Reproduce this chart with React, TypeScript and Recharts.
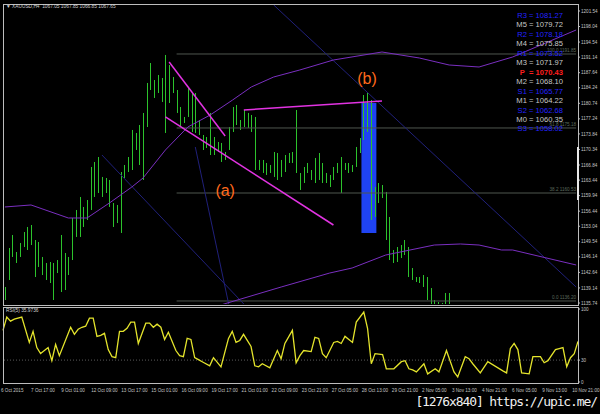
import React from 'react';
import {
  ComposedChart,
  Bar,
  Line,
  XAxis,
  YAxis,
  ReferenceLine,
  ReferenceArea,
  ReferenceDot,
} from 'recharts';

// XAUUSD H4, 6 Oct - 10 Nov 2015. Bars after #120 trade below the visible price window.
const TOTAL_BARS = 154;

const highs = [
  1139.35, 1148.14, 1151.07, 1147.24, 1149.27, 1151.74, 1152.87, 1153.32, 1149.94, 1149.49,
  1146.11, 1144.76, 1144.98, 1144.76, 1145.43, 1151.07, 1147.01, 1146.11, 1154.9, 1156.7,
  1159.63, 1157.38, 1158.95, 1166.39, 1167.52, 1168.64, 1164.14, 1163.91, 1163.46, 1158.28,
  1157.83, 1165.26, 1166.84, 1168.64, 1174.73, 1174.05, 1175.85, 1178.56, 1185.32, 1189.82,
  1185.99, 1187.12, 1186.44, 1191.63, 1189.37, 1186.67, 1183.74, 1179.91, 1177.66, 1184.19,
  1183.29, 1183.06, 1176.98, 1173.6, 1173.15, 1178.56, 1173.15, 1172.02, 1171.8, 1169.77,
  1175.4, 1179.91, 1180.36, 1176.98, 1179.23, 1178.56, 1178.11, 1177.66, 1167.97, 1167.97,
  1167.29, 1166.84, 1169.77, 1169.54, 1167.97, 1169.09, 1169.54, 1169.77, 1179.23, 1165.04,
  1166.39, 1167.29, 1165.71, 1168.42, 1169.54, 1167.29, 1165.04, 1164.59, 1166.39, 1167.29,
  1168.64, 1167.29, 1167.29, 1166.84, 1170.9, 1172.92, 1182.61, 1183.06, 1181.49, 1161.88,
  1162.78, 1162.33, 1160.76, 1155.12, 1147.69, 1148.36, 1148.81, 1149.94, 1148.36, 1143.63,
  1141.6, 1141.6, 1142.05, 1141.6, 1139.12, 1136.42, 1135.97, 1135.75, 1138.0, 1138.0,
];

const lows = [
  1136.42, 1140.93, 1146.11, 1144.76, 1146.11, 1148.36, 1147.69, 1148.81, 1141.6, 1143.86,
  1142.05, 1140.93, 1140.25, 1136.42, 1142.5, 1138.22, 1138.67, 1142.05, 1145.43, 1150.62,
  1150.62, 1152.87, 1154.45, 1156.7, 1159.63, 1160.53, 1159.63, 1160.53, 1157.38, 1152.87,
  1153.77, 1151.52, 1163.91, 1165.26, 1165.71, 1170.22, 1166.84, 1163.46, 1175.4, 1183.74,
  1181.94, 1183.06, 1181.04, 1174.05, 1180.81, 1183.06, 1178.56, 1175.4, 1176.3, 1177.66,
  1174.28, 1174.05, 1173.6, 1170.22, 1170.67, 1169.09, 1169.09, 1169.77, 1167.52, 1167.97,
  1170.22, 1174.28, 1175.85, 1174.73, 1175.4, 1175.18, 1174.28, 1165.71, 1165.71, 1165.04,
  1164.59, 1165.04, 1164.14, 1163.46, 1164.14, 1165.26, 1167.29, 1167.29, 1165.04, 1161.21,
  1162.78, 1165.04, 1163.46, 1162.78, 1163.46, 1162.78, 1162.78, 1161.88, 1163.46, 1165.04,
  1160.53, 1165.71, 1165.04, 1165.26, 1166.39, 1169.54, 1172.47, 1174.28, 1154.45, 1155.12,
  1158.28, 1159.4, 1149.94, 1145.43, 1144.76, 1144.98, 1145.88, 1146.56, 1141.6, 1140.93,
  1140.48, 1140.25, 1139.35, 1136.42, 1135.29, 1134.84, 1134.62, 1134.17, 1134.17, 1134.17,
];

// envelope curves (bar index -> price at each turn of the curve)
const upperIdx = [0, 7, 17, 22, 28, 34, 37, 43, 49, 55, 61, 66, 72, 79, 88, 101, 111, 119, 127, 136, 153];
const upperVal = [
  1157.38, 1157.83, 1154.9, 1154.9, 1158.28, 1161.88, 1163.91, 1170.22, 1175.4, 1178.11, 1181.49,
  1184.42, 1186.67, 1188.25, 1190.5, 1192.3, 1190.95, 1189.37, 1188.92, 1191.18, 1197.26,
];
const lowerIdx = [52, 56, 74, 87, 93, 102, 115, 122, 127, 133, 136, 153];
const lowerVal = [
  1134.17, 1134.84, 1139.35, 1142.5, 1143.63, 1146.56, 1148.81, 1149.04, 1148.81, 1147.69, 1147.69, 1144.31,
];

// RSI(5)
const rsiIdx = [
  0, 1, 2, 3, 5, 7, 8, 9, 10, 12, 13, 14, 15, 18, 19, 20, 21, 22, 23, 24, 25, 26, 27, 28, 29, 30,
  31, 32, 33, 34, 35, 36, 38, 39, 40, 41, 42, 43, 44, 46, 47, 48, 49, 50, 51, 52, 53, 55, 56, 58,
  60, 61, 62, 63, 64, 66, 67, 68, 69, 71, 73, 74, 75, 77, 78, 79, 80, 82, 83, 84, 85, 86, 88, 89,
  90, 91, 93, 94, 96, 97, 98, 99, 101, 102, 104, 106, 107, 108, 109, 110, 112, 113, 115, 116, 118,
  120, 121, 123, 124, 125, 127, 129, 133, 134, 135, 136, 137, 138, 140, 141, 143, 144, 145, 147,
  148, 149, 150, 151, 152, 153,
];
const rsiVal = [
  70.8, 88.9, 83.3, 86.1, 88.9, 54.2, 69.4, 47.2, 38.9, 47.2, 29.2, 51.4, 36.1, 75.0, 65.3, 72.2,
  75.0, 76.4, 87.5, 87.5, 62.5, 63.9, 66.7, 44.4, 34.7, 33.3, 69.4, 69.4, 73.6, 81.9, 81.9, 52.8,
  80.6, 80.6, 75.0, 79.2, 75.0, 58.3, 68.1, 43.1, 36.1, 34.7, 59.7, 58.3, 33.3, 30.6, 27.8, 22.2,
  33.3, 20.8, 59.7, 69.4, 54.2, 56.9, 65.3, 48.6, 22.2, 20.8, 25.0, 19.4, 43.1, 31.9, 52.8, 70.8,
  26.4, 36.1, 43.1, 41.7, 61.1, 59.7, 38.9, 33.3, 54.2, 55.6, 52.8, 62.5, 54.2, 82.0, 95.8, 73.6,
  25.0, 38.9, 37.5, 18.1, 18.1, 27.8, 29.2, 18.1, 16.7, 13.9, 25.0, 11.1, 18.1, 13.9, 43.1, 13.9,
  6.9, 34.7, 31.9, 25.0, 12.5, 27.8, 15.3, 12.5, 45.8, 52.8, 44.4, 12.5, 11.1, 34.7, 34.7, 26.4,
  29.2, 44.4, 45.8, 47.2, 20.8, 33.3, 38.9, 55.6,
];

const priceTicks = [
  1201.54, 1198.04, 1194.54, 1191.14, 1187.64, 1184.24, 1180.74, 1177.24, 1173.84, 1170.34,
  1166.84, 1163.44, 1159.94, 1156.44, 1153.04, 1149.54, 1146.14, 1142.64, 1139.14, 1135.74,
];

const timeLabels = [
  '6 Oct 2015', '7 Oct 17:00', '9 Oct 01:00', '12 Oct 09:00', '13 Oct 17:00', '15 Oct 01:00',
  '16 Oct 09:00', '19 Oct 17:00', '21 Oct 01:00', '22 Oct 09:00', '23 Oct 21:00', '27 Oct 05:00',
  '28 Oct 13:00', '29 Oct 21:00', '2 Nov 05:00', '3 Nov 13:00', '4 Nov 21:00', '6 Nov 05:00',
  '9 Nov 13:00', '10 Nov 21:00',
];
const timeTicks = timeLabels.map((_, k) => k * 8);

const pivotNames = ['R3', 'M5', 'R2', 'M4', 'R1', 'M3', 'P', 'M2', 'S1', 'M1', 'S2', 'M0', 'S3'];
const pivotLevels = [
  1081.27, 1079.72, 1078.18, 1075.85, 1073.52, 1071.97, 1070.43, 1068.1, 1065.77, 1064.22,
  1062.68, 1060.35, 1058.02,
];

// hand-drawn objects on the chart: [fromBar, fromPrice, toBar, toPrice]
const trendLines = [
  [44, 1190.05, 59, 1173.38],
  [43, 1177.66, 88, 1153.32],
  [64, 1179.23, 101, 1181.26],
];
const fanLines = [
  [72, 1202.89, 153, 1139.35],
  [26, 1169.09, 64, 1135.52],
  [51, 1170.9, 60, 1135.29],
];
const fibLevels = [1191.85, 1175.18, 1160.53, 1136.2];
const fibNames = ['100.0', '61.8', '38.2', '0.0'];

const PRICE_MIN = 1135.52;
const PRICE_MAX = 1202.89;

const rows = Array.from({ length: TOTAL_BARS }, (_, i) => {
  const u = upperIdx.indexOf(i);
  const l = lowerIdx.indexOf(i);
  const r = rsiIdx.indexOf(i);
  return {
    i,
    range: i < highs.length ? [lows[i], highs[i]] : null,
    upper: u >= 0 ? upperVal[u] : null,
    lower: l >= 0 ? lowerVal[l] : null,
    rsi: r >= 0 ? rsiVal[r] : null,
  };
});

const GREEN = '#2cc22c';
const TINY = { fontSize: 4.6, fill: '#c4c4c4', fontFamily: 'Liberation Sans, Arial, sans-serif' };

const HighLowBar = (props: any) => {
  const { x, y, width, height } = props;
  if (x == null || y == null || !height) return null;
  const cx = Math.round(x + width / 2) + 0.5;
  const top = Math.min(y, y + height);
  return <line x1={cx} x2={cx} y1={top} y2={top + Math.abs(height)} stroke={GREEN} strokeWidth={1} />;
};

const TimeTick = (props: any) => {
  const { x, y, payload } = props;
  return (
    <text x={x - 2} y={y + 2} textAnchor="start" {...TINY}>
      {timeLabels[payload.value / 8]}
    </text>
  );
};

const frame = (top: number, height: number): React.CSSProperties => ({
  position: 'absolute',
  left: 3,
  top,
  width: 574,
  height,
  border: '1px solid #bdbdbd',
  pointerEvents: 'none',
});

export default function App() {
  return (
    <div
      style={{
        position: 'absolute',
        left: 0,
        top: 0,
        width: 600,
        height: 414,
        background: '#000',
        overflow: 'hidden',
        fontFamily: 'Liberation Sans, Arial, sans-serif',
      }}
    >
      <div style={{ position: 'absolute', left: 0, top: 0 }}>
        <ComposedChart width={600} height={306} data={rows} margin={{ top: 5, right: 0, left: 3, bottom: 2 }}>
          <XAxis dataKey="i" hide />
          <YAxis
            orientation="right"
            width={22}
            domain={[PRICE_MIN, PRICE_MAX]}
            allowDataOverflow
            ticks={priceTicks}
            interval={0}
            tickFormatter={(v: number) => v.toFixed(2)}
            tick={TINY}
            tickSize={2}
            tickMargin={1}
            axisLine={false}
            tickLine={{ stroke: '#bdbdbd' }}
          />
          {fibLevels.map((p, k) => (
            <ReferenceLine
              key={`fib-${k}`}
              segment={[{ x: 46, y: p }, { x: 153, y: p }]}
              stroke="#4f564f"
              strokeWidth={1}
              ifOverflow="hidden"
            />
          ))}
          {fanLines.map(([a, pa, b, pb], k) => (
            <ReferenceLine
              key={`fan-${k}`}
              segment={[{ x: a, y: pa }, { x: b, y: pb }]}
              stroke="#20207a"
              strokeWidth={1}
              ifOverflow="hidden"
            />
          ))}
          <ReferenceArea x1={96} x2={99} y1={1151.52} y2={1180.81} fill="#1f43f2" fillOpacity={1} stroke="none" />
          <Line dataKey="upper" stroke="#7a2fc0" strokeWidth={1} dot={false} connectNulls isAnimationActive={false} />
          <Line dataKey="lower" stroke="#7a2fc0" strokeWidth={1} dot={false} connectNulls isAnimationActive={false} />
          <Bar dataKey="range" shape={HighLowBar} isAnimationActive={false} />
          {trendLines.map(([a, pa, b, pb], k) => (
            <ReferenceLine
              key={`tl-${k}`}
              segment={[{ x: a, y: pa }, { x: b, y: pb }]}
              stroke="#e233e2"
              strokeWidth={1.5}
              ifOverflow="hidden"
            />
          ))}
          <ReferenceDot
            x={59}
            y={1161.2}
            r={0}
            label={{ value: '(a)', fill: '#ff6a1c', fontSize: 16, position: 'center' }}
          />
          <ReferenceDot
            x={97}
            y={1186.4}
            r={0}
            label={{ value: '(b)', fill: '#ff6a1c', fontSize: 16, position: 'center' }}
          />
        </ComposedChart>
      </div>

      <div style={{ position: 'absolute', left: 0, top: 306 }}>
        <ComposedChart width={600} height={94} data={rows} margin={{ top: 3, right: 0, left: 3, bottom: 6 }}>
          <XAxis
            dataKey="i"
            ticks={timeTicks}
            interval={0}
            height={12}
            tick={<TimeTick />}
            tickLine={false}
            axisLine={false}
          />
          <YAxis
            orientation="right"
            width={22}
            domain={[0, 100]}
            ticks={[0, 30, 100]}
            interval={0}
            tick={TINY}
            tickSize={2}
            tickMargin={1}
            axisLine={false}
            tickLine={{ stroke: '#bdbdbd' }}
          />
          <ReferenceLine y={30} stroke="#5a5a5a" strokeDasharray="1 2" />
          <Line dataKey="rsi" stroke="#e4e42c" strokeWidth={1.3} dot={false} connectNulls isAnimationActive={false} />
        </ComposedChart>
      </div>

      <div style={frame(4, 300)} />
      <div style={frame(307, 75)} />
      <div style={{ position: 'absolute', left: 577, top: 147, width: 2, height: 53, background: '#e8e8e8' }} />

      <div style={{ position: 'absolute', left: 6, top: 4, fontSize: 4.8, color: '#d0d0d0', whiteSpace: 'pre' }}>
        {'\u25BC XAUUSD,H4  1067.05 1067.85 1066.85 1067.65'}
      </div>
      <div style={{ position: 'absolute', left: 6, top: 308, fontSize: 4.8, color: '#d0d0d0', whiteSpace: 'pre' }}>
        RSI(5) 35.9736
      </div>

      {fibLevels.map((p, k) => (
        <div
          key={`fibl-${k}`}
          style={{
            position: 'absolute',
            right: 24,
            top: 5 + ((PRICE_MAX - p) / (PRICE_MAX - PRICE_MIN)) * 299 - 6,
            fontSize: 4.6,
            color: '#5d6a5d',
            whiteSpace: 'pre',
          }}
        >
          {`${fibNames[k]} ${p.toFixed(2)}`}
        </div>
      ))}

      <div style={{ position: 'absolute', right: 37, top: 11, textAlign: 'right', fontSize: 7.6, lineHeight: '9.45px' }}>
        {pivotNames.map((n, k) => {
          const color = n === 'P' ? '#ff1e1e' : n.startsWith('M') ? '#c8c8c8' : '#2323ff';
          return (
            <div key={n} style={{ color, whiteSpace: 'pre', fontWeight: n === 'P' ? 700 : 400 }}>
              {`${n === 'P' ? 'P ' : n} = ${pivotLevels[k].toFixed(2)}`}
            </div>
          );
        })}
      </div>

      <div
        style={{
          position: 'absolute',
          right: 3,
          top: 394,
          fontSize: 13,
          lineHeight: '16px',
          letterSpacing: -1.1,
          color: '#f0f0f0',
          fontFamily: 'DejaVu Sans Mono, monospace',
          whiteSpace: 'pre',
        }}
      >
        [1276x840] https://upic.me/
      </div>
    </div>
  );
}
